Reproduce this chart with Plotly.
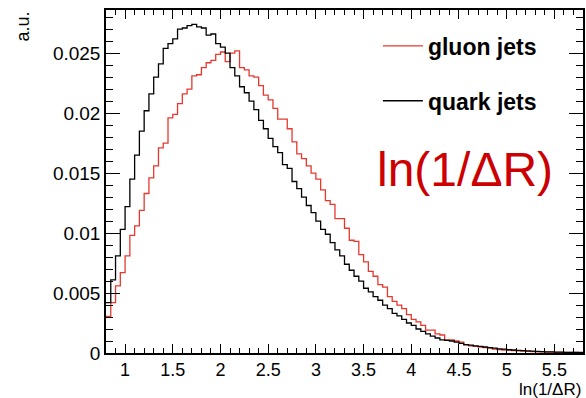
import plotly.graph_objects as go

# Histogram binning: 100 bins of width 0.05 from 0.8 to 5.8
x_lo, bin_w, n_bins = 0.8, 0.05, 100
edges = [round(x_lo + i * bin_w, 4) for i in range(n_bins + 1)]

quark = [
    0.0042, 0.0061, 0.0081, 0.0103, 0.0122, 0.0145, 0.0165, 0.0185, 0.0202, 0.0216,
    0.0230, 0.0241, 0.0254, 0.0258, 0.0262, 0.0270, 0.0271, 0.0273, 0.0274, 0.0272,
    0.0271, 0.0265, 0.0266, 0.0258, 0.0255, 0.0250, 0.0238, 0.0231, 0.0222, 0.0217,
    0.0210, 0.0203, 0.0194, 0.0187, 0.0179, 0.0172, 0.0167, 0.0157, 0.0154, 0.0143,
    0.0137, 0.0130, 0.0123, 0.0117, 0.0110, 0.0103, 0.0099, 0.0092, 0.0086, 0.0081,
    0.0074, 0.0069, 0.0064, 0.0060, 0.0054, 0.0051, 0.0047, 0.0044, 0.0040, 0.0037,
    0.0033, 0.0031, 0.0028, 0.0025, 0.0023, 0.0020, 0.0018, 0.0016, 0.0014, 0.00125,
    0.0011, 0.00105, 0.0010, 0.0009, 0.0008, 0.0007, 0.00065, 0.0006, 0.00055, 0.0005,
    0.00045, 0.0004, 0.00035, 0.00032, 0.00028, 0.00025, 0.00022, 0.0002, 0.00018, 0.00016,
    0.00014, 0.00012, 0.0001, 0.00009, 0.00008, 0.00007, 0.00006, 0.00005, 0.00004, 0.00004,
]

gluon = [
    0.00305, 0.0042, 0.0056, 0.0067, 0.0081, 0.0098, 0.0106, 0.0119, 0.0133, 0.0146,
    0.0156, 0.0171, 0.0175, 0.0196, 0.0199, 0.0208, 0.0216, 0.0220, 0.0231, 0.0232,
    0.0238, 0.0242, 0.0244, 0.0249, 0.0251, 0.0243, 0.0250, 0.0252, 0.0238, 0.0236,
    0.0231, 0.0230, 0.0223, 0.0215, 0.0211, 0.0204, 0.0195, 0.0195, 0.0187, 0.0176,
    0.0166, 0.0162, 0.0156, 0.0150, 0.0145, 0.0136, 0.0127, 0.0124, 0.0112, 0.0112,
    0.0104, 0.0094, 0.0093, 0.0082, 0.0076, 0.0068, 0.0064, 0.0057, 0.0055, 0.0047,
    0.0043, 0.0040, 0.0037, 0.0032, 0.0028, 0.0026, 0.0023, 0.0019, 0.0019, 0.0016,
    0.0015, 0.0011, 0.0011, 0.0010, 0.0009, 0.00067, 0.0006, 0.00055, 0.0005, 0.00045,
    0.0004, 0.00033, 0.00028, 0.00025, 0.00022, 0.0002, 0.00017, 0.00016, 0.00014, 0.00012,
    0.0001, 0.00009, 0.00008, 0.00007, 0.00006, 0.00006, 0.00005, 0.00004, 0.00004, 0.00003,
]

series_names = ["gluon jets", "quark jets"]
series_vals = [gluon, quark]
series_colors = ["#e8382e", "#000000"]

FONT = "Liberation Sans, Arial, Helvetica, sans-serif"

fig = go.Figure()
for i, (name, vals, col) in enumerate(zip(series_names, series_vals, series_colors)):
    fig.add_trace(go.Scatter(
        x=edges, y=list(vals) + [vals[-1]],
        mode="lines", line=dict(color=col, width=1.3, shape="hv"),
        name=name, legendgroup=f"g{i}",
    ))

axis_common = dict(
    showgrid=False, zeroline=False, showline=True, linecolor="black", linewidth=1.5,
    mirror="ticks", ticks="inside", tickcolor="black", tickwidth=1,
)

fig.update_xaxes(range=[0.8, 5.8], tick0=0, dtick=0.5, ticklen=9,
                 minor=dict(dtick=0.1, ticklen=5, ticks="inside", tickcolor="black"),
                 tickfont=dict(family=FONT, size=18, color="black"),
                 **axis_common)
fig.update_yaxes(range=[0, 0.0286], tick0=0, dtick=0.005, ticklen=14,
                 minor=dict(dtick=0.001, ticklen=7, ticks="inside", tickcolor="black"),
                 tickfont=dict(family=FONT, size=19, color="black"),
                 **axis_common)

fig.update_layout(
    width=586, height=398,
    margin=dict(l=106, r=1, t=10, b=45),
    paper_bgcolor="white", plot_bgcolor="white",
    showlegend=True,
    legend=dict(x=0.57, y=0.958, xanchor="left", yanchor="top",
                bgcolor="rgba(0,0,0,0)", tracegroupgap=22, itemwidth=40,
                font=dict(family=FONT, size=23, color="black", weight="bold")),
    annotations=[
        dict(text="ln(1/ΔR)", xref="paper", yref="paper", x=1, y=-0.14,
             xanchor="right", yanchor="bottom", showarrow=False,
             font=dict(family=FONT, size=17, color="black")),
        dict(text="a.u.", xref="paper", yref="paper", x=-0.175, y=1.0,
             xanchor="center", yanchor="top", textangle=-90, showarrow=False,
             font=dict(family=FONT, size=18, color="black")),
        dict(text="ln(1/ΔR)", xref="paper", yref="paper", x=0.752, y=0.534,
             xanchor="center", yanchor="middle", showarrow=False,
             font=dict(family=FONT, size=48, color="#cc0000")),
    ],
)

fig.write_html("out.html")
